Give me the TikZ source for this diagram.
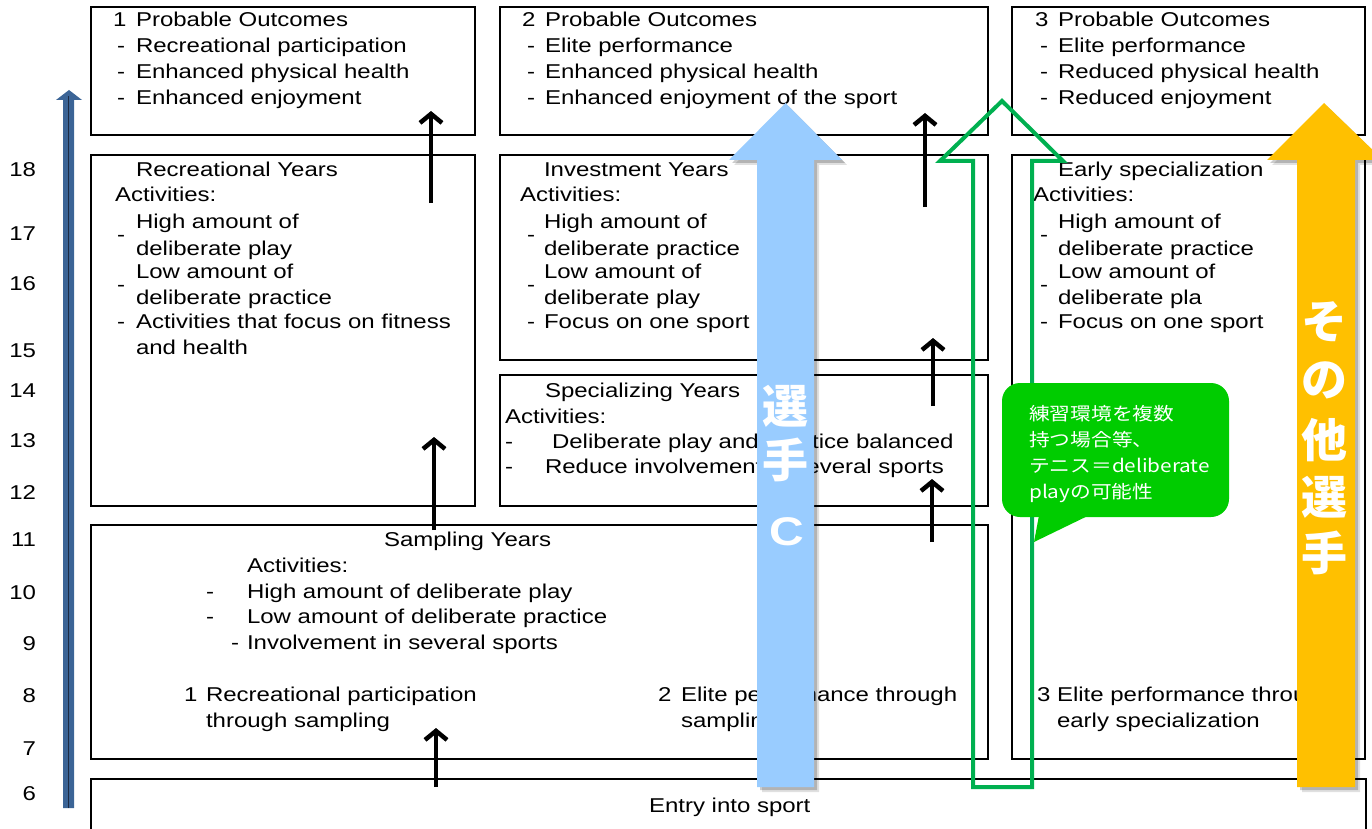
\documentclass[tikz,border=0pt]{standalone}
\usepackage{fontspec}
\setmainfont{Liberation Sans}[FakeStretch=1.2]
\newfontfamily\jpfont{Noto Sans CJK JP}
\newfontfamily\jpnarrow{Noto Sans CJK JP}[FakeStretch=1.15]
\usetikzlibrary{arrows.meta,shadows}

\definecolor{axisblue}{HTML}{3B6496}
\definecolor{axisdark}{HTML}{1C2B45}
\definecolor{lightblue}{HTML}{99CCFF}
\definecolor{amber}{HTML}{FFC000}
\definecolor{outlinegreen}{HTML}{00B050}
\definecolor{calloutgreen}{HTML}{00CC00}

% a "- text" line: dash and text set on one baseline
\newcommand\itemline[5]{%
  \node[txt] (#1d) at (#2,#4) {-};
  \node[txt] (#1) at (#3,#4) {#5};}
% a two-line item whose dash sits between the two lines
\newcommand\wrapline[7]{%
  \node[txt] (#1d) at ({#2},{(#4+#5)/2}) {-};
  \node[txt] (#1a) at (#3,#4) {#6};
  \node[txt] (#1b) at (#3,#5) {#7};}

\begin{document}
\begin{tikzpicture}[x=1pt,y=-1pt,
  stage/.style={draw=black, line width=2.5pt, inner sep=0pt, outer sep=0pt},
  txt/.style={anchor=base west, inner sep=0pt, outer sep=0pt, font=\fontsize{20}{24}\selectfont},
  num/.style={anchor=base east, inner sep=0pt, outer sep=0pt, font=\fontsize{20}{24}\selectfont},
  rise/.style={line width=4.5pt, -{Straight Barb[length=9pt,width=22pt]}},
  bigarrow/.style={
    drop shadow={shadow xshift=5pt,shadow yshift=-5pt,opacity=0.12,fill=black},
    drop shadow={shadow xshift=3pt,shadow yshift=-3pt,opacity=0.2,fill=black}},
  vchar/.style={inner sep=0pt, text=white, font=\jpfont\bfseries\fontsize{46}{46}\selectfont},
  note/.style={anchor=base west, inner sep=0pt, text=white, font=\jpnarrow\fontsize{18}{22}\selectfont}]

\useasboundingbox (0,0) rectangle (1372,829);
\clip (0,0) rectangle (1372,829);

% ---------- age axis ----------
\foreach \n/\y in {18/176,17/240,16/290,15/357,14/397,13/447,12/499,11/546,10/599,9/650,8/702,7/755,6/800}
  \node[num] (age\n) at (36,\y) {\n};
\fill[axisblue] (63,808) -- (63,100) -- (56,100) -- (69,90) -- (82,100) -- (74,100) -- (74,808) -- cycle;
\draw[axisdark, line width=1.5pt] (68.5,808) -- (68.5,96);

% ---------- stage boxes ----------
\node[stage, minimum width=384pt, minimum height=128pt] (po1) at (283,71) {};
\node[stage, minimum width=488pt, minimum height=128pt] (po2) at (744,71) {};
\node[stage, minimum width=353pt, minimum height=128pt] (po3) at (1188.5,71) {};
\node[stage, minimum width=384pt, minimum height=351pt] (rec) at (283,330.5) {};
\node[stage, minimum width=488pt, minimum height=205pt] (inv) at (744,257.5) {};
\node[stage, minimum width=488pt, minimum height=131pt] (spe) at (744,440.5) {};
\node[stage, minimum width=353pt, minimum height=604pt] (early) at (1188.5,457) {};
\node[stage, minimum width=897pt, minimum height=234pt] (samp) at (539.5,642) {};
\node[stage, minimum width=1275pt, minimum height=82pt] (entry) at (728.5,820) {};

% ---------- outcomes ----------
\node[txt] (po1k) at (113,27) {1};
\node[txt] (po1h) at (136,27) {Probable Outcomes};
\itemline{po1a}{117}{136}{53}{Recreational participation}
\itemline{po1b}{117}{136}{79}{Enhanced physical health}
\itemline{po1c}{117}{136}{105}{Enhanced enjoyment}

\node[txt] (po2k) at (522,27) {2};
\node[txt] (po2h) at (545,27) {Probable Outcomes};
\itemline{po2a}{527}{545}{53}{Elite performance}
\itemline{po2b}{527}{545}{79}{Enhanced physical health}
\itemline{po2c}{527}{545}{105}{Enhanced enjoyment of the sport}

\node[txt] (po3k) at (1035,27) {3};
\node[txt] (po3h) at (1058,27) {Probable Outcomes};
\itemline{po3a}{1040}{1058}{53}{Elite performance}
\itemline{po3b}{1040}{1058}{79}{Reduced physical health}
\itemline{po3c}{1040}{1058}{105}{Reduced enjoyment}

% ---------- recreational years ----------
\node[txt] (rect) at (136,176) {Recreational Years};
\node[txt] (reca) at (115,201) {Activities:};
\wrapline{rec1}{117}{136}{228}{255}{High amount of}{deliberate play}
\wrapline{rec2}{117}{136}{278}{304}{Low amount of}{deliberate practice}
\itemline{rec3}{117}{136}{328}{Activities that focus on fitness}
\node[txt] (rec3b) at (136,354) {and health};

% ---------- investment years ----------
\node[txt] (invt) at (544,176) {Investment Years};
\node[txt] (inva) at (520,201) {Activities:};
\wrapline{inv1}{527}{544}{228}{255}{High amount of}{deliberate practice}
\wrapline{inv2}{527}{544}{278}{304}{Low amount of}{deliberate play}
\itemline{inv3}{527}{544}{328}{Focus on one sport}

% ---------- early specialization ----------
\node[txt] (earlyt) at (1058,176) {Early specialization};
\node[txt] (earlya) at (1033,201) {Activities:};
\wrapline{ear1}{1040}{1058}{228}{255}{High amount of}{deliberate practice}
\wrapline{ear2}{1040}{1058}{278}{304}{Low amount of}{deliberate pla}
\itemline{ear3}{1040}{1058}{328}{Focus on one sport}
\node[txt] (ear4k) at (1037,701) {3};
\node[txt] (ear4a) at (1057,701) {Elite performance through};
\node[txt] (ear4b) at (1057,727) {early specialization};

% ---------- specializing years ----------
\node[txt] (spet) at (545,397) {Specializing Years};
\node[txt] (spea) at (505,423) {Activities:};
\node[txt] (spe1d) at (505,448) {-};
\node[txt] (spe1) at (552,448) {Deliberate play and practice balanced};
\node[txt] (spe2d) at (505,473) {-};
\node[txt] (spe2) at (545,473) {Reduce involvement in several sports};

% ---------- sampling years ----------
\node[txt] (sampt) at (384,546) {Sampling Years};
\node[txt] (sampa) at (247,572) {Activities:};
\itemline{samp1}{206}{247}{598}{High amount of deliberate play}
\itemline{samp2}{206}{247}{623}{Low amount of deliberate practice}
\itemline{samp3}{231}{247}{649}{Involvement in several sports}
\node[txt] (path1k) at (184,701) {1};
\node[txt] (path1a) at (206,701) {Recreational participation};
\node[txt] (path1b) at (206,727) {through sampling};
\node[txt] (path2k) at (658,701) {2};
\node[txt] (path2a) at (681,701) {Elite performance through};
\node[txt] (path2b) at (681,727) {sampling};

\node[txt] (entryt) at (649,812) {Entry into sport};

% ---------- progression arrows ----------
\coordinate (a1s) at (431,203); \coordinate (a1e) at (431,111);
\coordinate (a2s) at (434,530); \coordinate (a2e) at (434,437);
\coordinate (a3s) at (436,787); \coordinate (a3e) at (436,728);
\coordinate (a4s) at (925,207); \coordinate (a4e) at (925,113);
\coordinate (a5s) at (933,406); \coordinate (a5e) at (933,338);
\coordinate (a6s) at (932,542); \coordinate (a6e) at (932,479);
\foreach \k in {1,...,6} \draw[rise] (a\k s) -- (a\k e);

% ---------- player C ----------
\path[bigarrow, fill=lightblue] (757,787) -- (757,160) -- (729,160) -- (785.5,103)
  -- (842,160) -- (814,160) -- (814,787) -- cycle;
\node[vchar] (pc1) at (785.5,406) {選};
\node[vchar] (pc2) at (785.5,460) {手};
\node[inner sep=0pt, text=white, font=\bfseries\fontsize{40}{40}\selectfont] (pc3) at (787,532) {C};

% ---------- outlined green route ----------
\draw[outlinegreen, line width=4pt, line join=miter] (973,787) -- (973,161) -- (940,161) -- (1002,101)
  -- (1063,161) -- (1032,161) -- (1032,787) -- cycle;

% ---------- callout ----------
\fill[calloutgreen, rounded corners=18pt] (1002,383) rectangle (1229,517);
\fill[calloutgreen] (1040,510) -- (1034,542) -- (1100,510) -- cycle;
\node[note] (n1) at (1029,420) {練習環境を複数};
\node[note] (n2) at (1029,446) {持つ場合等、};
\node[note] (n3) at (1029,472) {テニス＝deliberate};
\node[note] (n4) at (1029,498) {playの可能性};

% ---------- other players ----------
\path[bigarrow, fill=amber] (1297,787) -- (1297,160) -- (1267,160) -- (1324,103)
  -- (1383,160) -- (1355,160) -- (1355,787) -- cycle;
\node[vchar] (op1) at (1324,322) {そ};
\node[vchar] (op2) at (1324,380) {の};
\node[vchar] (op3) at (1324,440) {他};
\node[vchar] (op4) at (1324,497) {選};
\node[vchar] (op5) at (1324,553) {手};
\end{tikzpicture}
\end{document}
